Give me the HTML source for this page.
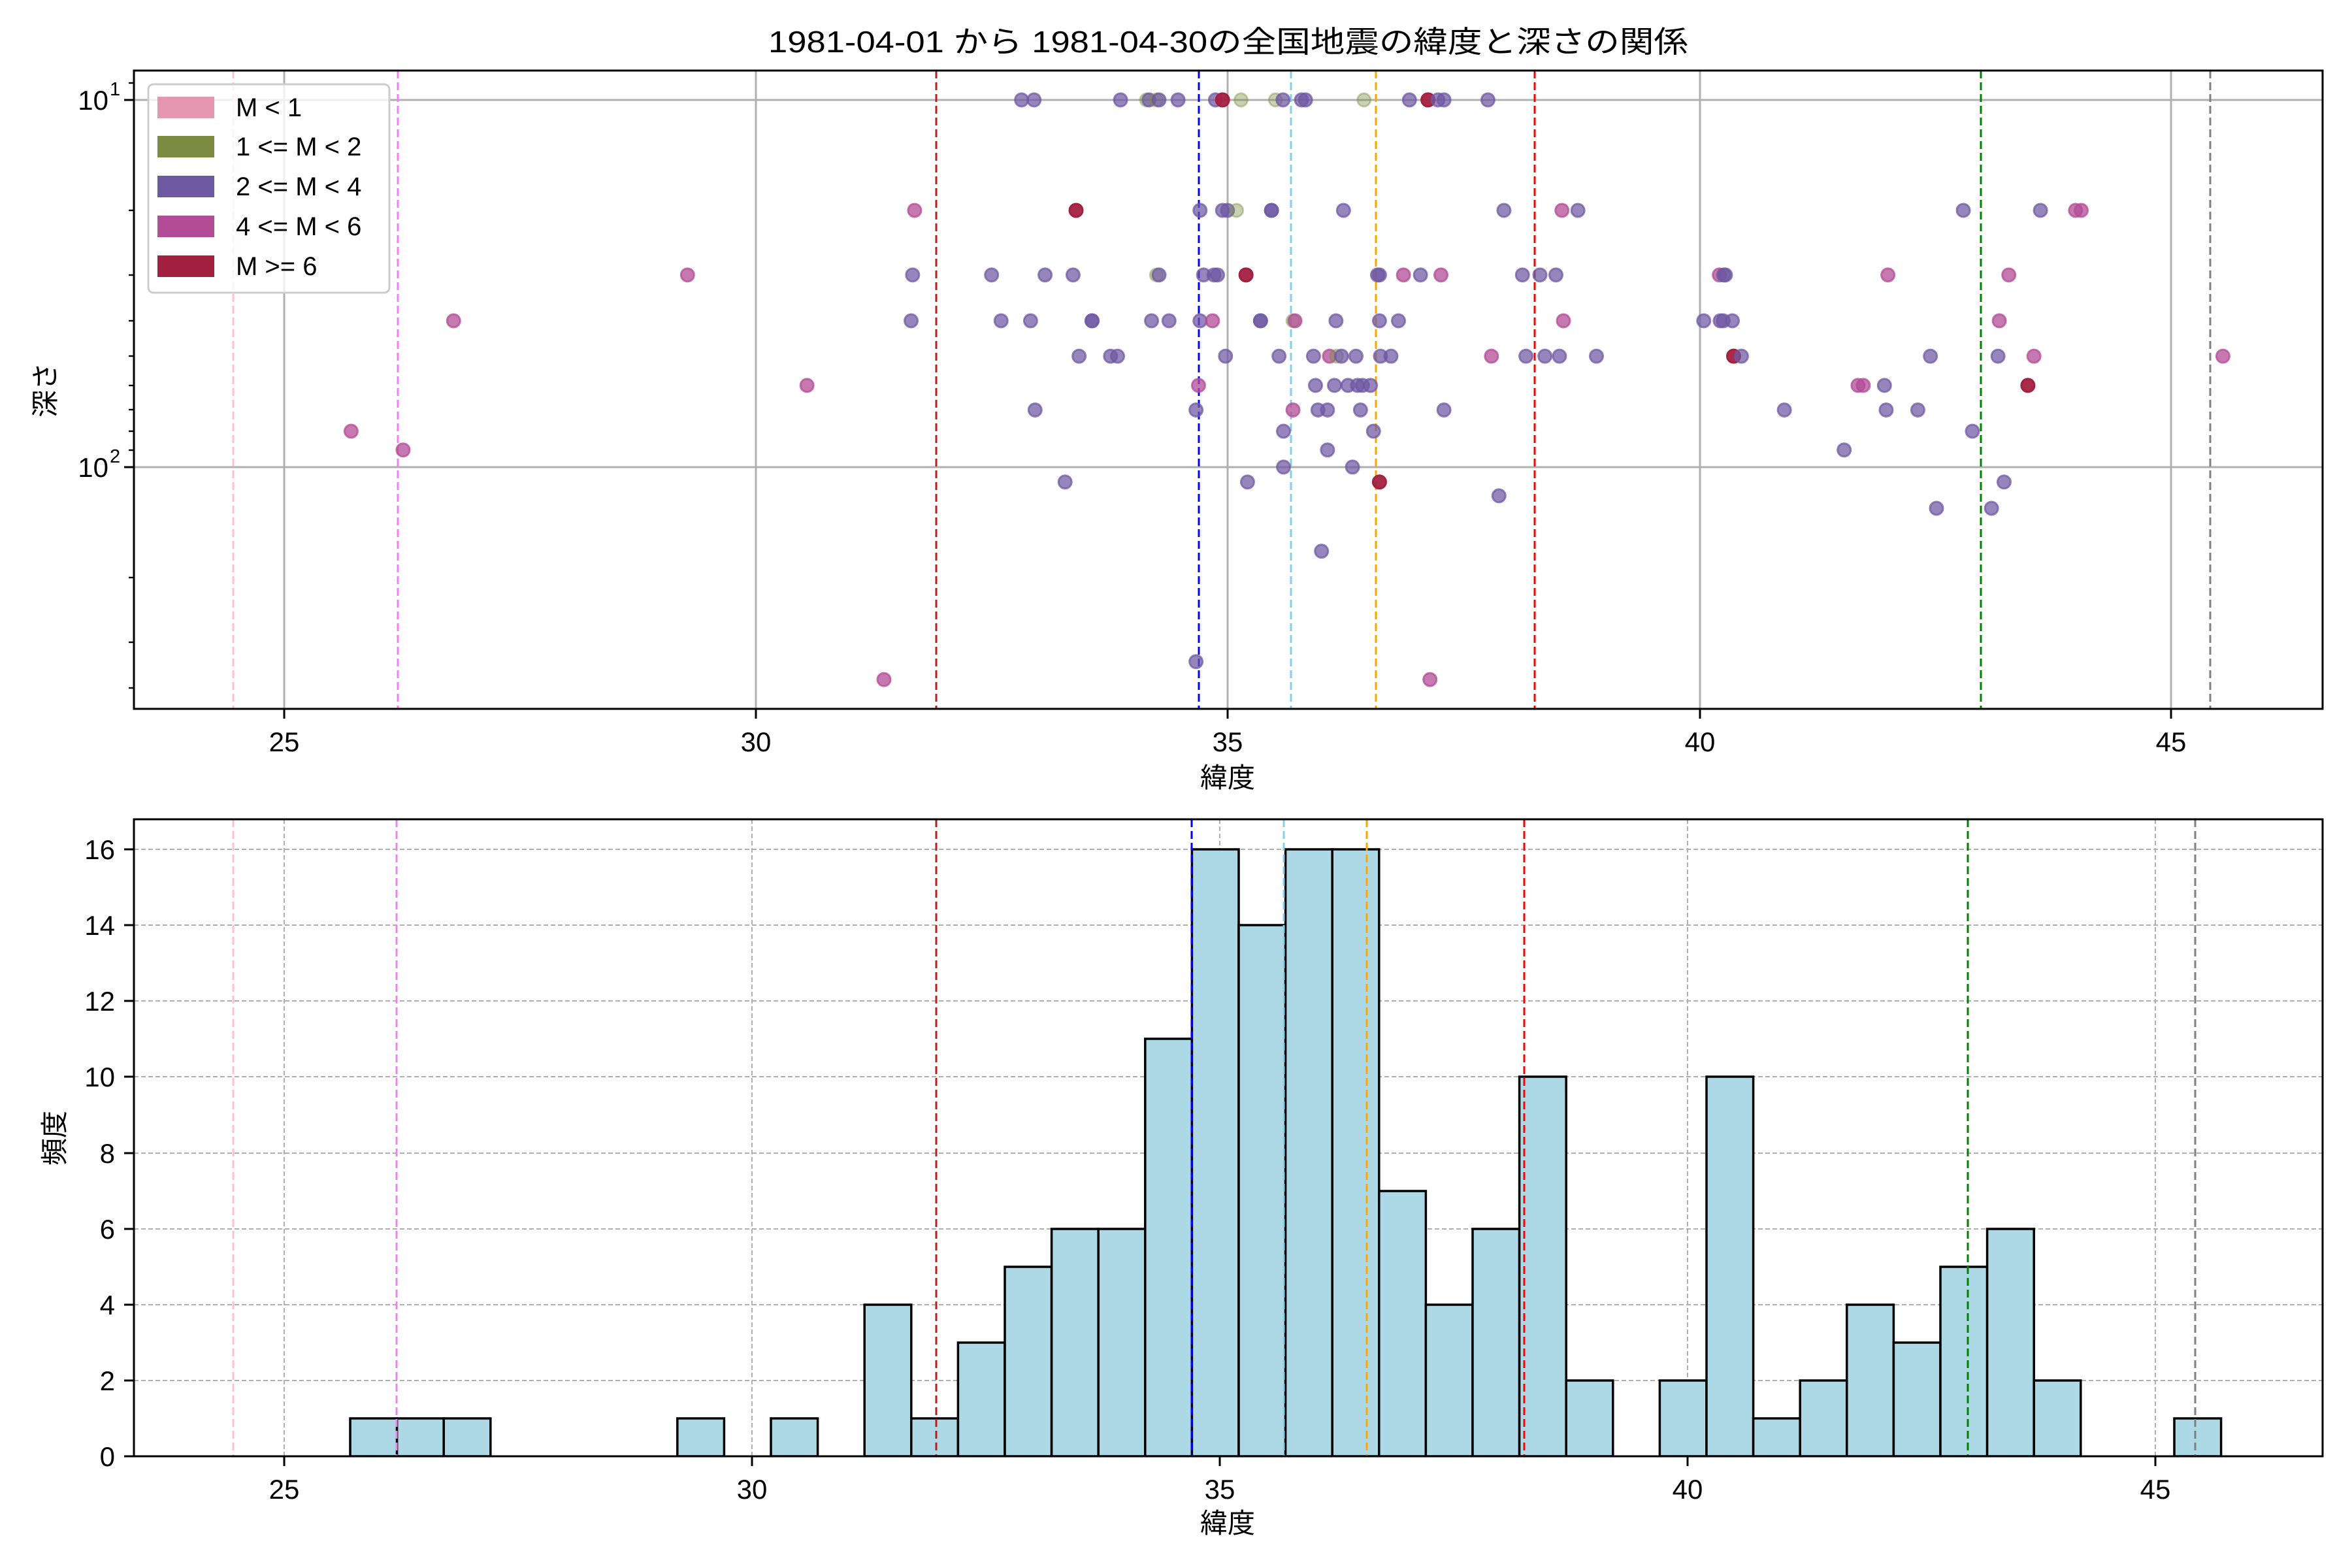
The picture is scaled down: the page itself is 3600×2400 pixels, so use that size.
<!DOCTYPE html>
<html><head><meta charset="utf-8"><style>
html,body{margin:0;padding:0;background:#fff;}
svg{display:block;}
text{font-family:"Liberation Sans","Noto Sans CJK JP",sans-serif;fill:#000;}
.P{fill:#6f58a2;fill-opacity:.72;stroke:#6f58a2;stroke-opacity:.72;stroke-width:3;}
.G{fill:#7b8c42;fill-opacity:.4;stroke:#7b8c42;stroke-opacity:.4;stroke-width:3;}
.M{fill:#b34c97;fill-opacity:.75;stroke:#b34c97;stroke-opacity:.75;stroke-width:3;}
.R{fill:#a32041;fill-opacity:.95;stroke:#a32041;stroke-width:3;}
ellipse{vector-effect:non-scaling-stroke;}
</style></head><body>
<svg width="3600" height="2400" viewBox="0 0 3600 2400" xmlns="http://www.w3.org/2000/svg">
<rect width="3600" height="2400" fill="#fff"/>
<text x="1880" y="80" font-size="46" text-anchor="middle" textLength="1408" lengthAdjust="spacingAndGlyphs">1981-04-01 から 1981-04-30の全国地震の緯度と深さの関係</text>

<!-- ===== TOP AXES ===== -->
<defs><clipPath id="c1"><rect x="205" y="108" width="3350" height="977"/></clipPath>
<clipPath id="c2"><rect x="205" y="1254" width="3350" height="975"/></clipPath></defs>
<g stroke="#b0b0b0" stroke-width="3">
<line x1="435" y1="108" x2="435" y2="1085"/><line x1="1157" y1="108" x2="1157" y2="1085"/>
<line x1="1879" y1="108" x2="1879" y2="1085"/><line x1="2602" y1="108" x2="2602" y2="1085"/>
<line x1="3323" y1="108" x2="3323" y2="1085"/>
<line x1="205" y1="153" x2="3555" y2="153"/><line x1="205" y1="715" x2="3555" y2="715"/>
</g>
<g stroke-width="3" stroke-dasharray="12,6" fill="none">
<line x1="357" y1="108" x2="357" y2="1085" stroke="#ffc0cb"/>
<line x1="609" y1="108" x2="609" y2="1085" stroke="#ee82ee"/>
<line x1="1433" y1="108" x2="1433" y2="1085" stroke="#b22222"/>
<line x1="1835" y1="108" x2="1835" y2="1085" stroke="#0000ff"/>
<line x1="1976" y1="108" x2="1976" y2="1085" stroke="#87ceeb"/>
<line x1="2106" y1="108" x2="2106" y2="1085" stroke="#ffa500"/>
<line x1="2349" y1="108" x2="2349" y2="1085" stroke="#ff0000"/>
<line x1="3032" y1="108" x2="3032" y2="1085" stroke="#008000"/>
<line x1="3383" y1="108" x2="3383" y2="1085" stroke="#808080"/>
</g>
<g clip-path="url(#c1)">
<g transform="translate(1380,100) scale(0.7651,0.6378)">
<g id="z3">
<!-- row 83 -->
<ellipse class="P" cx="240" cy="83" rx="13.07" ry="15.68"/><ellipse class="P" cx="265" cy="83" rx="13.07" ry="15.68"/><ellipse class="P" cx="438" cy="83" rx="13.07" ry="15.68"/><ellipse class="G" cx="490" cy="83" rx="13.07" ry="15.68"/><ellipse class="P" cx="495" cy="83" rx="13.07" ry="15.68"/><ellipse class="G" cx="510" cy="83" rx="13.07" ry="15.68"/><ellipse class="P" cx="515" cy="83" rx="13.07" ry="15.68"/><ellipse class="P" cx="553" cy="83" rx="13.07" ry="15.68"/><ellipse class="P" cx="628" cy="83" rx="13.07" ry="15.68"/><ellipse class="R" cx="642" cy="83" rx="13.07" ry="15.68"/><ellipse class="G" cx="679" cy="83" rx="13.07" ry="15.68"/><ellipse class="G" cx="748" cy="83" rx="13.07" ry="15.68"/><ellipse class="P" cx="763" cy="83" rx="13.07" ry="15.68"/><ellipse class="P" cx="800" cy="83" rx="13.07" ry="15.68"/><ellipse class="P" cx="808" cy="83" rx="13.07" ry="15.68"/><ellipse class="G" cx="925" cy="83" rx="13.07" ry="15.68"/><ellipse class="P" cx="1016" cy="83" rx="13.07" ry="15.68"/><ellipse class="R" cx="1053" cy="83" rx="13.07" ry="15.68"/><ellipse class="P" cx="1073" cy="83" rx="13.07" ry="15.68"/><ellipse class="P" cx="1085" cy="83" rx="13.07" ry="15.68"/><ellipse class="P" cx="1173" cy="83" rx="13.07" ry="15.68"/>
<!-- row 348 -->
<ellipse class="M" cx="26" cy="348" rx="13.07" ry="15.68"/><ellipse class="R" cx="349" cy="348" rx="13.07" ry="15.68"/><ellipse class="P" cx="597" cy="348" rx="13.07" ry="15.68"/><ellipse class="P" cx="642" cy="348" rx="13.07" ry="15.68"/><ellipse class="P" cx="652" cy="348" rx="13.07" ry="15.68"/><ellipse class="G" cx="670" cy="348" rx="13.07" ry="15.68"/><ellipse class="P" cx="740" cy="348" rx="13.07" ry="15.68"/><ellipse class="P" cx="740" cy="348" rx="13.07" ry="15.68"/><ellipse class="P" cx="884" cy="348" rx="13.07" ry="15.68"/><ellipse class="P" cx="1205" cy="348" rx="13.07" ry="15.68"/><ellipse class="M" cx="1321" cy="348" rx="13.07" ry="15.68"/><ellipse class="P" cx="1353" cy="348" rx="13.07" ry="15.68"/>
<!-- row 503 -->
<ellipse class="P" cx="22" cy="503" rx="13.07" ry="15.68"/><ellipse class="P" cx="180" cy="503" rx="13.07" ry="15.68"/><ellipse class="P" cx="287" cy="503" rx="13.07" ry="15.68"/><ellipse class="P" cx="343" cy="503" rx="13.07" ry="15.68"/><ellipse class="G" cx="510" cy="503" rx="13.07" ry="15.68"/><ellipse class="P" cx="515" cy="503" rx="13.07" ry="15.68"/><ellipse class="P" cx="604" cy="503" rx="13.07" ry="15.68"/><ellipse class="P" cx="625" cy="503" rx="13.07" ry="15.68"/><ellipse class="P" cx="632" cy="503" rx="13.07" ry="15.68"/><ellipse class="R" cx="689" cy="503" rx="13.07" ry="15.68"/><ellipse class="P" cx="952" cy="503" rx="13.07" ry="15.68"/><ellipse class="P" cx="956" cy="503" rx="13.07" ry="15.68"/><ellipse class="M" cx="1004" cy="503" rx="13.07" ry="15.68"/><ellipse class="P" cx="1038" cy="503" rx="13.07" ry="15.68"/><ellipse class="M" cx="1079" cy="503" rx="13.07" ry="15.68"/><ellipse class="P" cx="1242" cy="503" rx="13.07" ry="15.68"/><ellipse class="P" cx="1277" cy="503" rx="13.07" ry="15.68"/><ellipse class="P" cx="1309" cy="503" rx="13.07" ry="15.68"/>
<!-- row 613 -->
<ellipse class="P" cx="19" cy="613" rx="13.07" ry="15.68"/><ellipse class="P" cx="199" cy="613" rx="13.07" ry="15.68"/><ellipse class="P" cx="258" cy="613" rx="13.07" ry="15.68"/><ellipse class="P" cx="381" cy="613" rx="13.07" ry="15.68"/><ellipse class="P" cx="381" cy="613" rx="13.07" ry="15.68"/><ellipse class="P" cx="500" cy="613" rx="13.07" ry="15.68"/><ellipse class="P" cx="535" cy="613" rx="13.07" ry="15.68"/><ellipse class="P" cx="597" cy="613" rx="13.07" ry="15.68"/><ellipse class="M" cx="622" cy="613" rx="13.07" ry="15.68"/><ellipse class="P" cx="718" cy="613" rx="13.07" ry="15.68"/><ellipse class="P" cx="718" cy="613" rx="13.07" ry="15.68"/><ellipse class="G" cx="783" cy="613" rx="13.07" ry="15.68"/><ellipse class="M" cx="787" cy="613" rx="13.07" ry="15.68"/><ellipse class="P" cx="869" cy="613" rx="13.07" ry="15.68"/><ellipse class="P" cx="956" cy="613" rx="13.07" ry="15.68"/><ellipse class="P" cx="994" cy="613" rx="13.07" ry="15.68"/><ellipse class="M" cx="1324" cy="613" rx="13.07" ry="15.68"/>
<!-- row 698 -->
<ellipse class="P" cx="355" cy="698" rx="13.07" ry="15.68"/><ellipse class="P" cx="418" cy="698" rx="13.07" ry="15.68"/><ellipse class="P" cx="432" cy="698" rx="13.07" ry="15.68"/><ellipse class="P" cx="648" cy="698" rx="13.07" ry="15.68"/><ellipse class="P" cx="755" cy="698" rx="13.07" ry="15.68"/><ellipse class="P" cx="824" cy="698" rx="13.07" ry="15.68"/><ellipse class="M" cx="856" cy="698" rx="13.07" ry="15.68"/><ellipse class="G" cx="870" cy="698" rx="13.07" ry="15.68"/><ellipse class="P" cx="880" cy="698" rx="13.07" ry="15.68"/><ellipse class="P" cx="909" cy="698" rx="13.07" ry="15.68"/><ellipse class="P" cx="958" cy="698" rx="13.07" ry="15.68"/><ellipse class="P" cx="979" cy="698" rx="13.07" ry="15.68"/><ellipse class="M" cx="1180" cy="698" rx="13.07" ry="15.68"/><ellipse class="P" cx="1249" cy="698" rx="13.07" ry="15.68"/><ellipse class="P" cx="1287" cy="698" rx="13.07" ry="15.68"/><ellipse class="P" cx="1316" cy="698" rx="13.07" ry="15.68"/><ellipse class="P" cx="1390" cy="698" rx="13.07" ry="15.68"/>
<!-- row 768 -->
<ellipse class="M" cx="594" cy="768" rx="13.07" ry="15.68"/><ellipse class="P" cx="828" cy="768" rx="13.07" ry="15.68"/><ellipse class="P" cx="866" cy="768" rx="13.07" ry="15.68"/><ellipse class="P" cx="893" cy="768" rx="13.07" ry="15.68"/><ellipse class="P" cx="912" cy="768" rx="13.07" ry="15.68"/><ellipse class="P" cx="922" cy="768" rx="13.07" ry="15.68"/><ellipse class="P" cx="938" cy="768" rx="13.07" ry="15.68"/>
<!-- row 827 -->
<ellipse class="P" cx="267" cy="827" rx="13.07" ry="15.68"/><ellipse class="P" cx="589" cy="827" rx="13.07" ry="15.68"/><ellipse class="M" cx="783" cy="827" rx="13.07" ry="15.68"/><ellipse class="P" cx="833" cy="827" rx="13.07" ry="15.68"/><ellipse class="P" cx="852" cy="827" rx="13.07" ry="15.68"/><ellipse class="P" cx="918" cy="827" rx="13.07" ry="15.68"/><ellipse class="P" cx="1085" cy="827" rx="13.07" ry="15.68"/>
<ellipse class="P" cx="764" cy="878" rx="13.07" ry="15.68"/><ellipse class="P" cx="944" cy="878" rx="13.07" ry="15.68"/>
<ellipse class="P" cx="852" cy="923" rx="13.07" ry="15.68"/>
<ellipse class="P" cx="764" cy="964" rx="13.07" ry="15.68"/><ellipse class="P" cx="902" cy="964" rx="13.07" ry="15.68"/>
<ellipse class="P" cx="327" cy="1000" rx="13.07" ry="15.68"/><ellipse class="P" cx="692" cy="1000" rx="13.07" ry="15.68"/><ellipse class="R" cx="956" cy="1000" rx="13.07" ry="15.68"/>
<ellipse class="P" cx="1195" cy="1033" rx="13.07" ry="15.68"/>
<ellipse class="P" cx="840" cy="1166" rx="13.07" ry="15.68"/>
<ellipse class="P" cx="589" cy="1431" rx="13.07" ry="15.68"/>
<ellipse class="M" cx="1057" cy="1474" rx="13.07" ry="15.68"/>
</g></g>
<g transform="translate(2560,100) scale(0.6633,0.6378)">
<ellipse class="P" cx="671" cy="348" rx="15.08" ry="15.68"/><ellipse class="P" cx="849" cy="348" rx="15.08" ry="15.68"/><ellipse class="M" cx="930" cy="348" rx="15.08" ry="15.68"/><ellipse class="M" cx="943" cy="348" rx="15.08" ry="15.68"/>
<ellipse class="M" cx="108" cy="503" rx="15.08" ry="15.68"/><ellipse class="P" cx="118" cy="503" rx="15.08" ry="15.68"/><ellipse class="P" cx="122" cy="503" rx="15.08" ry="15.68"/><ellipse class="M" cx="497" cy="503" rx="15.08" ry="15.68"/><ellipse class="M" cx="776" cy="503" rx="15.08" ry="15.68"/>
<ellipse class="P" cx="72" cy="613" rx="15.08" ry="15.68"/><ellipse class="P" cx="110" cy="613" rx="15.08" ry="15.68"/><ellipse class="P" cx="117" cy="613" rx="15.08" ry="15.68"/><ellipse class="P" cx="138" cy="613" rx="15.08" ry="15.68"/><ellipse class="M" cx="754" cy="613" rx="15.08" ry="15.68"/>
<ellipse class="R" cx="141" cy="698" rx="15.08" ry="15.68"/><ellipse class="P" cx="159" cy="698" rx="15.08" ry="15.68"/><ellipse class="P" cx="595" cy="698" rx="15.08" ry="15.68"/><ellipse class="P" cx="751" cy="698" rx="15.08" ry="15.68"/><ellipse class="M" cx="834" cy="698" rx="15.08" ry="15.68"/><ellipse class="M" cx="1270" cy="698" rx="15.08" ry="15.68"/>
<ellipse class="M" cx="428" cy="768" rx="15.08" ry="15.68"/><ellipse class="M" cx="440" cy="768" rx="15.08" ry="15.68"/><ellipse class="P" cx="489" cy="768" rx="15.08" ry="15.68"/><ellipse class="R" cx="820" cy="768" rx="15.08" ry="15.68"/>
<ellipse class="P" cx="258" cy="827" rx="15.08" ry="15.68"/><ellipse class="P" cx="493" cy="827" rx="15.08" ry="15.68"/><ellipse class="P" cx="566" cy="827" rx="15.08" ry="15.68"/>
<ellipse class="P" cx="692" cy="878" rx="15.08" ry="15.68"/>
<ellipse class="P" cx="396" cy="923" rx="15.08" ry="15.68"/>
<ellipse class="P" cx="765" cy="1000" rx="15.08" ry="15.68"/>
<ellipse class="P" cx="609" cy="1063" rx="15.08" ry="15.68"/><ellipse class="P" cx="736" cy="1063" rx="15.08" ry="15.68"/>
</g>
<g transform="translate(200,100) scale(0.7651,0.6378)">
<ellipse class="M" cx="441" cy="878" rx="13.07" ry="15.68"/><ellipse class="M" cx="545" cy="923" rx="13.07" ry="15.68"/><ellipse class="M" cx="646" cy="613" rx="13.07" ry="15.68"/><ellipse class="M" cx="1114" cy="503" rx="13.07" ry="15.68"/><ellipse class="M" cx="1353" cy="768" rx="13.07" ry="15.68"/><ellipse class="M" cx="1507" cy="1474" rx="13.07" ry="15.68"/>
</g>
</g>
<rect x="205" y="108" width="3350" height="977" fill="none" stroke="#000" stroke-width="3"/>
<!-- top ticks -->
<g stroke="#000" stroke-width="3">
<line x1="435" y1="1085" x2="435" y2="1100"/><line x1="1157" y1="1085" x2="1157" y2="1100"/><line x1="1879" y1="1085" x2="1879" y2="1100"/><line x1="2602" y1="1085" x2="2602" y2="1100"/><line x1="3323" y1="1085" x2="3323" y2="1100"/>
<line x1="190" y1="153" x2="205" y2="153"/><line x1="190" y1="715" x2="205" y2="715"/>
</g>
<g stroke="#000" stroke-width="2.4">
<line x1="197" y1="127" x2="205" y2="127"/><line x1="197" y1="322" x2="205" y2="322"/><line x1="197" y1="421" x2="205" y2="421"/><line x1="197" y1="491" x2="205" y2="491"/><line x1="197" y1="545" x2="205" y2="545"/><line x1="197" y1="590" x2="205" y2="590"/><line x1="197" y1="627" x2="205" y2="627"/><line x1="197" y1="660" x2="205" y2="660"/><line x1="197" y1="689" x2="205" y2="689"/><line x1="197" y1="884" x2="205" y2="884"/><line x1="197" y1="983" x2="205" y2="983"/><line x1="197" y1="1053" x2="205" y2="1053"/>
</g>
<g font-size="42" text-anchor="middle">
<text x="435" y="1150">25</text><text x="1157" y="1150">30</text><text x="1879" y="1150">35</text><text x="2602" y="1150">40</text><text x="3323" y="1150">45</text>
<text x="1879" y="1205">緯度</text>
</g>
<text x="166" y="168" font-size="42" text-anchor="end">10</text><text x="168" y="146" font-size="29">1</text>
<text x="166" y="730" font-size="42" text-anchor="end">10</text><text x="168" y="708" font-size="29">2</text>
<text transform="translate(84,597) rotate(-90)" font-size="42" text-anchor="middle">深さ</text>
<!-- legend -->
<rect x="227" y="129" width="369" height="319" rx="8" fill="#fff" fill-opacity="0.8" stroke="#cccccc" stroke-width="3"/>
<rect x="241" y="148" width="87" height="33" fill="#e597b2"/>
<rect x="241" y="208" width="87" height="33" fill="#7b8c42"/>
<rect x="241" y="269" width="87" height="33" fill="#6f58a2"/>
<rect x="241" y="330" width="87" height="33" fill="#b34c97"/>
<rect x="241" y="391" width="87" height="33" fill="#a32041"/>
<g font-size="40">
<text x="361" y="178">M &lt; 1</text>
<text x="361" y="238">1 &lt;= M &lt; 2</text>
<text x="361" y="299">2 &lt;= M &lt; 4</text>
<text x="361" y="360">4 &lt;= M &lt; 6</text>
<text x="361" y="421">M &gt;= 6</text>
</g>

<!-- ===== BOTTOM AXES ===== -->
<g stroke="#b0b0b0" stroke-width="2" stroke-dasharray="7,4">
<line x1="435" y1="1254" x2="435" y2="2229"/><line x1="1151" y1="1254" x2="1151" y2="2229"/><line x1="1867" y1="1254" x2="1867" y2="2229"/><line x1="2583" y1="1254" x2="2583" y2="2229"/><line x1="3299" y1="1254" x2="3299" y2="2229"/>
<line x1="205" y1="2229" x2="3555" y2="2229"/><line x1="205" y1="2113" x2="3555" y2="2113"/><line x1="205" y1="1997" x2="3555" y2="1997"/><line x1="205" y1="1881" x2="3555" y2="1881"/><line x1="205" y1="1765" x2="3555" y2="1765"/><line x1="205" y1="1648" x2="3555" y2="1648"/><line x1="205" y1="1532" x2="3555" y2="1532"/><line x1="205" y1="1416" x2="3555" y2="1416"/><line x1="205" y1="1300" x2="3555" y2="1300"/>
</g>
<g fill="#add8e6" stroke="#000" stroke-width="3.5" clip-path="url(#c2)">
<rect x="536" y="2171" width="71.6" height="58"/>
<rect x="607.6" y="2171" width="71.6" height="58"/>
<rect x="679.2" y="2171" width="71.6" height="58"/>
<rect x="1036.8" y="2171" width="71.6" height="58"/>
<rect x="1180" y="2171" width="71.6" height="58"/>
<rect x="1323.2" y="1997" width="71.6" height="232"/>
<rect x="1394.8" y="2171" width="71.6" height="58"/>
<rect x="1466.4" y="2055" width="71.6" height="174"/>
<rect x="1538" y="1939" width="71.6" height="290"/>
<rect x="1609.6" y="1881" width="71.6" height="348"/>
<rect x="1681.2" y="1881" width="71.6" height="348"/>
<rect x="1752.8" y="1590" width="71.6" height="639"/>
<rect x="1824.4" y="1300" width="71.6" height="929"/>
<rect x="1896" y="1416" width="71.6" height="813"/>
<rect x="1967.6" y="1300" width="71.6" height="929"/>
<rect x="2039.2" y="1300" width="71.6" height="929"/>
<rect x="2110.8" y="1823" width="71.6" height="406"/>
<rect x="2182.4" y="1997" width="71.6" height="232"/>
<rect x="2254" y="1881" width="71.6" height="348"/>
<rect x="2325.6" y="1648" width="71.6" height="581"/>
<rect x="2397.2" y="2113" width="71.6" height="116"/>
<rect x="2540.4" y="2113" width="71.6" height="116"/>
<rect x="2612" y="1648" width="71.6" height="581"/>
<rect x="2683.6" y="2171" width="71.6" height="58"/>
<rect x="2755.2" y="2113" width="71.6" height="116"/>
<rect x="2826.8" y="1997" width="71.6" height="232"/>
<rect x="2898.4" y="2055" width="71.6" height="174"/>
<rect x="2970" y="1939" width="71.6" height="290"/>
<rect x="3041.6" y="1881" width="71.6" height="348"/>
<rect x="3113.2" y="2113" width="71.6" height="116"/>
<rect x="3328" y="2171" width="71.6" height="58"/>
</g>
<g stroke-width="3" stroke-dasharray="12,6" fill="none">
<line x1="357" y1="1254" x2="357" y2="2229" stroke="#ffc0cb"/>
<line x1="607" y1="1254" x2="607" y2="2229" stroke="#ee82ee"/>
<line x1="1433" y1="1254" x2="1433" y2="2229" stroke="#b22222"/>
<line x1="1824" y1="1254" x2="1824" y2="2229" stroke="#0000ff"/>
<line x1="1965" y1="1254" x2="1965" y2="2229" stroke="#87ceeb"/>
<line x1="2092" y1="1254" x2="2092" y2="2229" stroke="#ffa500"/>
<line x1="2333" y1="1254" x2="2333" y2="2229" stroke="#ff0000"/>
<line x1="3012" y1="1254" x2="3012" y2="2229" stroke="#008000"/>
<line x1="3360" y1="1254" x2="3360" y2="2229" stroke="#808080"/>
</g>
<rect x="205" y="1254" width="3350" height="975" fill="none" stroke="#000" stroke-width="3"/>
<g stroke="#000" stroke-width="3">
<line x1="435" y1="2229" x2="435" y2="2244"/><line x1="1151" y1="2229" x2="1151" y2="2244"/><line x1="1867" y1="2229" x2="1867" y2="2244"/><line x1="2583" y1="2229" x2="2583" y2="2244"/><line x1="3299" y1="2229" x2="3299" y2="2244"/>
<line x1="190" y1="2229" x2="205" y2="2229"/><line x1="190" y1="2113" x2="205" y2="2113"/><line x1="190" y1="1997" x2="205" y2="1997"/><line x1="190" y1="1881" x2="205" y2="1881"/><line x1="190" y1="1765" x2="205" y2="1765"/><line x1="190" y1="1648" x2="205" y2="1648"/><line x1="190" y1="1532" x2="205" y2="1532"/><line x1="190" y1="1416" x2="205" y2="1416"/><line x1="190" y1="1300" x2="205" y2="1300"/>
</g>
<g font-size="42" text-anchor="middle">
<text x="435" y="2294">25</text><text x="1151" y="2294">30</text><text x="1867" y="2294">35</text><text x="2583" y="2294">40</text><text x="3299" y="2294">45</text>
<text x="1879" y="2346">緯度</text>
</g>
<g font-size="42" text-anchor="end">
<text x="176" y="2244">0</text><text x="176" y="2128">2</text><text x="176" y="2012">4</text><text x="176" y="1896">6</text><text x="176" y="1780">8</text><text x="176" y="1663">10</text><text x="176" y="1547">12</text><text x="176" y="1431">14</text><text x="176" y="1315">16</text>
</g>
<text transform="translate(98,1742) rotate(-90)" font-size="42" text-anchor="middle">頻度</text>
</svg>
</body></html>
